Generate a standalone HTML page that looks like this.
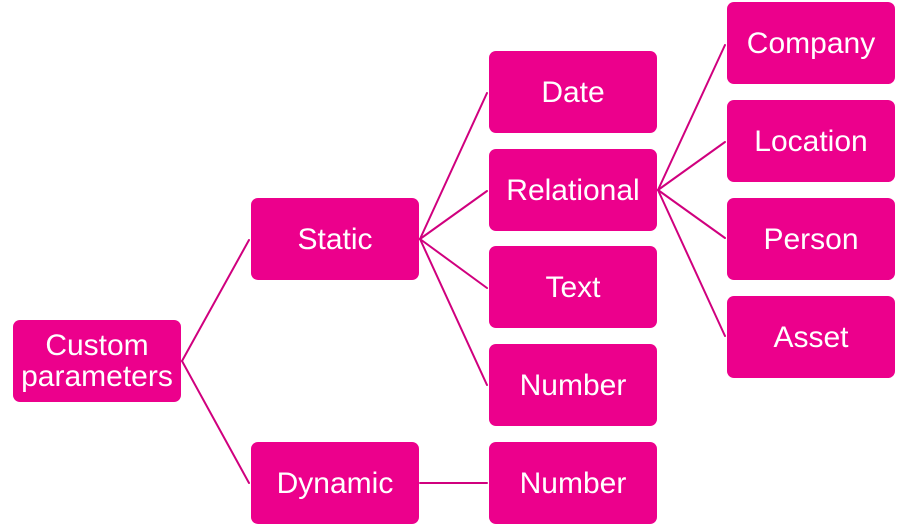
<!DOCTYPE html>
<html><head><meta charset="utf-8"><style>
html,body{margin:0;padding:0;background:#fff;}
body{width:904px;height:527px;position:relative;overflow:hidden;font-family:"Liberation Sans",sans-serif;}
.b{position:absolute;width:168px;height:82px;background:#EC008C;border-radius:7px;color:#fff;font-size:30px;display:flex;align-items:center;justify-content:center;text-align:center;line-height:31px;}
svg{position:absolute;left:0;top:0;}
</style></head><body>
<svg width="904" height="527"><g stroke="#D0007E" stroke-width="2" fill="none" stroke-linecap="round">
<line x1="182" y1="361" x2="249" y2="240"/>
<line x1="182" y1="361" x2="249" y2="483"/>
<line x1="420" y1="239" x2="487" y2="93"/>
<line x1="420" y1="239" x2="487" y2="191"/>
<line x1="420" y1="239" x2="487" y2="288"/>
<line x1="420" y1="239" x2="487" y2="385"/>
<line x1="420" y1="483" x2="487" y2="483"/>
<line x1="658" y1="190" x2="725" y2="45"/>
<line x1="658" y1="190" x2="725" y2="142"/>
<line x1="658" y1="190" x2="725" y2="238"/>
<line x1="658" y1="190" x2="725" y2="336"/>
</g></svg>
<div class="b" style="left:13px;top:320px;">Custom<br>parameters</div>
<div class="b" style="left:251px;top:198px;">Static</div>
<div class="b" style="left:251px;top:442px;">Dynamic</div>
<div class="b" style="left:489px;top:51px;">Date</div>
<div class="b" style="left:489px;top:149px;">Relational</div>
<div class="b" style="left:489px;top:246px;">Text</div>
<div class="b" style="left:489px;top:344px;">Number</div>
<div class="b" style="left:489px;top:442px;">Number</div>
<div class="b" style="left:727px;top:2px;">Company</div>
<div class="b" style="left:727px;top:100px;">Location</div>
<div class="b" style="left:727px;top:198px;">Person</div>
<div class="b" style="left:727px;top:296px;">Asset</div>
</body></html>
